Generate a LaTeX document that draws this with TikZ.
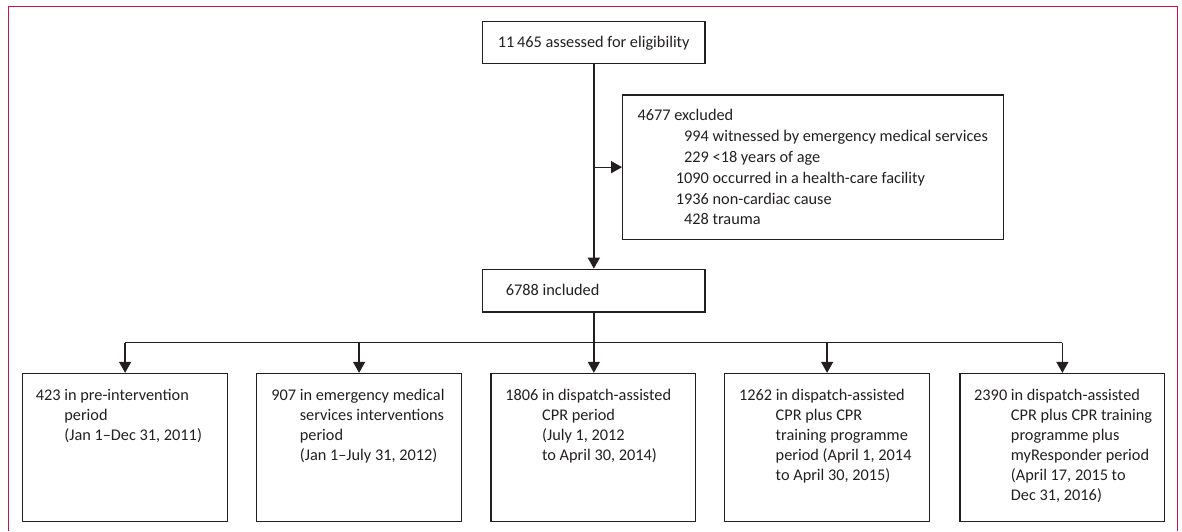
\documentclass[tikz,border=0pt]{standalone}
\usepackage{fontspec}
\setmainfont{Carlito}
\usetikzlibrary{arrows.meta,calc}
\definecolor{framepink}{RGB}{204,20,70}
\definecolor{ink}{RGB}{35,31,32}
\tikzset{
  boxnode/.style={draw=ink, line width=1.3pt, inner sep=0pt, minimum width=#1},
  txt/.style={inner sep=0pt, anchor=base west, text=ink, font=\fontsize{16.3}{20}\selectfont},
  txtex/.style={inner sep=0pt, anchor=base west, text=ink, font=\fontsize{16.3}{20.8}\selectfont},
  arr/.style={draw=ink, line width=1.3pt, -{Triangle[width=12pt,length=11pt]}},
  conn/.style={draw=ink, line width=1.3pt},
  frameline/.style={draw=framepink, line width=1.4pt}
}
\begin{document}
\begin{tikzpicture}[x=1pt,y=-1pt]
\useasboundingbox (0,0) rectangle (1182,531);
\draw[frameline] (8.5,531) -- (8.5,6.5) -- (1177.5,6.5) -- (1177.5,531);

% boxes
\node[boxnode=222.3pt, minimum height=42pt] (top) at (593.85,42.3) {};
\node[boxnode=380.6pt, minimum height=144.3pt] (excl) at (813,167.15) {};
\node[boxnode=222.3pt, minimum height=42.7pt] (inc) at (593.85,290.65) {};
\node[boxnode=204.8pt, minimum height=148.2pt] (b1) at (125.1,447.6) {};
\node[boxnode=204.8pt, minimum height=148.2pt] (b2) at (359.1,447.6) {};
\node[boxnode=204.8pt, minimum height=148.2pt] (b3) at (593.4,447.6) {};
\node[boxnode=204.8pt, minimum height=148.2pt] (b4) at (827.1,447.6) {};
\node[boxnode=204.8pt, minimum height=148.2pt] (b5) at (1062.4,447.6) {};

% texts
\node[txt] (ttop) at (497.7,47.5) {11\,465 assessed for eligibility};
\node[txt] (tinc) at (505.7,295.5) {6788 included};
\node[txtex] (texcl) at (637.3,120.8) {\begin{tabular}[t]{@{\hspace{38.4pt}}r@{\ }l@{}}
\multicolumn{2}{@{}l@{}}{4677 excluded}\\
994 & witnessed by emergency medical services\\
229 & <18 years of age\\
1090 & occurred in a health-care facility\\
1936 & non-cardiac cause\\
428 & trauma
\end{tabular}};
\node[txt] (t1) at (35.7,400.5) {\begin{tabular}[t]{@{}l@{\ }l@{}}
423 & in pre-intervention\\ & period\\ & (Jan 1–Dec 31, 2011)
\end{tabular}};
\node[txt] (t2) at (271.2,400.5) {\begin{tabular}[t]{@{}l@{\ }l@{}}
907 & in emergency medical\\ & services interventions\\ & period\\ & (Jan 1–July 31, 2012)
\end{tabular}};
\node[txt] (t3) at (505.2,400.5) {\begin{tabular}[t]{@{}l@{\ }l@{}}
1806 & in dispatch-assisted\\ & CPR period\\ & (July 1, 2012\\ & to April 30, 2014)
\end{tabular}};
\node[txt] (t4) at (738.8,400.5) {\begin{tabular}[t]{@{}l@{\ }l@{}}
1262 & in dispatch-assisted\\ & CPR plus CPR\\ & training programme\\ & period (April 1, 2014\\ & to April 30, 2015)
\end{tabular}};
\node[txt] (t5) at (974,400.5) {\begin{tabular}[t]{@{}l@{\ }l@{}}
2390 & in dispatch-assisted\\ & CPR plus CPR training\\ & programme plus\\ & myResponder period\\ & (April 17, 2015 to\\ & Dec 31, 2016)
\end{tabular}};

% connectors
\coordinate (split) at (top.south |- excl.west);
\coordinate (br) at (593.4,342.7);
\draw[arr] (top.south) -- (top.south |- inc.north);
\draw[arr] (split) -- (excl.west);
\draw[conn] (inc.south) -- (inc.south |- br);
\draw[conn] (b1.north |- br) -- (b5.north |- br);
\draw[arr] (b1.north |- br) -- (b1.north);
\draw[arr] (b2.north |- br) -- (b2.north);
\draw[arr] (inc.south |- br) -- (inc.south |- b3.north);
\draw[arr] (b4.north |- br) -- (b4.north);
\draw[arr] (b5.north |- br) -- (b5.north);
\end{tikzpicture}
\end{document}
